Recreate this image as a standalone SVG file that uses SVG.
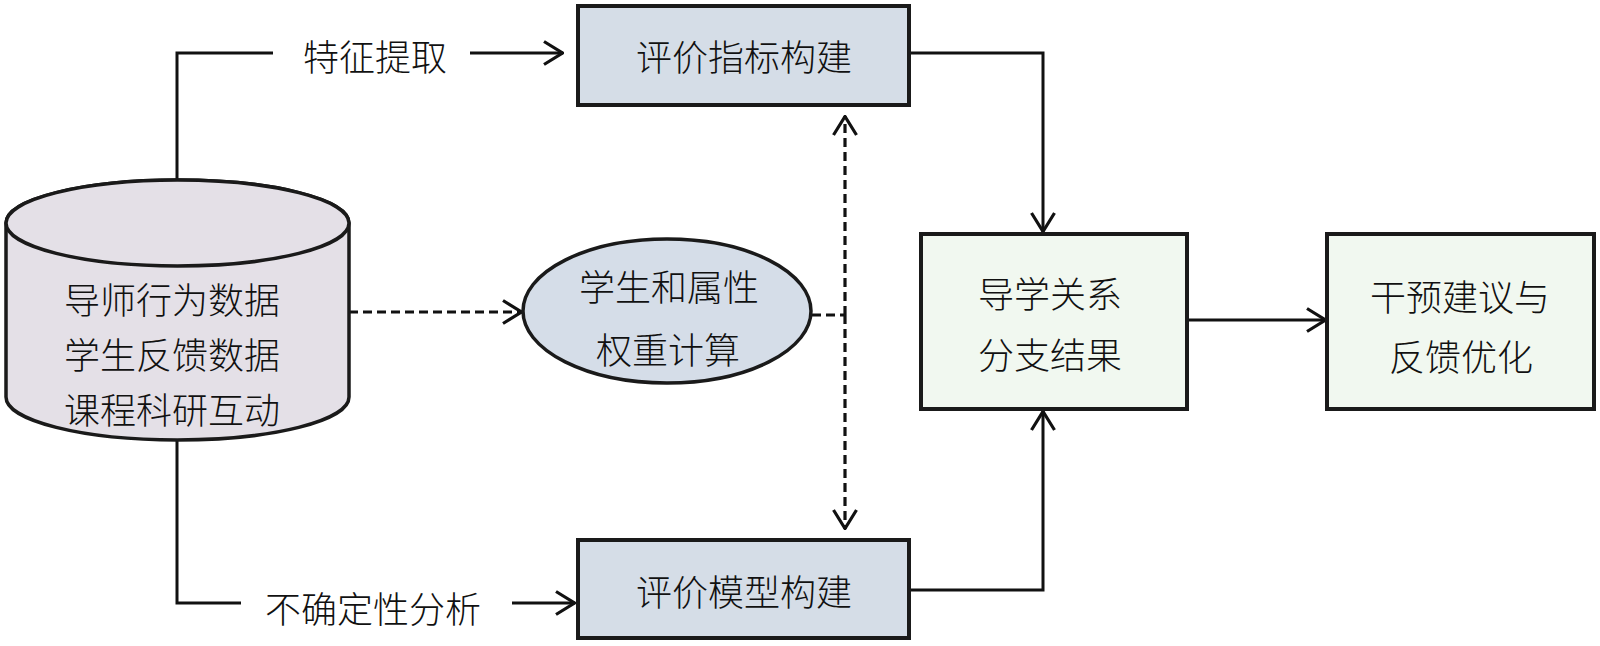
<svg xmlns="http://www.w3.org/2000/svg" width="1600" height="646" viewBox="0 0 1600 646">
<defs>
<style>
.t{font-family:"Noto Sans CJK SC","Noto Sans",sans-serif;font-size:36px;font-weight:300;fill:#111;text-anchor:middle;dominant-baseline:central;}
.box{stroke:#1a1a1a;stroke-width:4;}
.blue{fill:#d5dde7;}
.green{fill:#f1f8f0;}
.ln{fill:none;stroke:#111;stroke-width:3;}
.dash{fill:none;stroke:#111;stroke-width:3.2;stroke-dasharray:9 5;}
</style>
<marker id="arr" viewBox="0 0 22 26" refX="21" refY="13" markerWidth="22" markerHeight="26" markerUnits="userSpaceOnUse" orient="auto">
<path d="M2,1.5 L20.5,13 L2,24.5" fill="none" stroke="#111" stroke-width="3.2"/>
</marker>
</defs>
<rect width="1600" height="646" fill="#fff"/>
<g id="connectors">
<path class="ln" d="M177,180 L177,53 L273,53"/>
<path class="ln" d="M470,53 L563,53" marker-end="url(#arr)"/>
<path class="ln" d="M177,440 L177,603 L241,603"/>
<path class="ln" d="M512,603 L575,603" marker-end="url(#arr)"/>
<path class="ln" d="M909,53 L1043,53 L1043,232" marker-end="url(#arr)"/>
<path class="ln" d="M909,590 L1043,590 L1043,411" marker-end="url(#arr)"/>
<path class="ln" d="M1187,320 L1326,320" marker-end="url(#arr)"/>
<path class="dash" d="M349,312 L522,312" marker-end="url(#arr)"/>
<path class="dash" d="M812,315 L845,315"/>
<path class="dash" d="M845,315 L845,116" marker-end="url(#arr)"/>
<path class="dash" d="M845,315 L845,529" marker-end="url(#arr)"/>
<text class="t" x="375" y="55">特征提取</text>
<text class="t" x="373" y="607">不确定性分析</text>
</g>
<g id="data">
<path d="M6,223 A171.5,43 0 0 1 349,223 L349,397 A171.5,43 0 0 1 6,397 Z" fill="#e4e0e7" stroke="#1a1a1a" stroke-width="3.5"/>
<ellipse cx="177.5" cy="223" rx="171.5" ry="43" fill="#e4e0e7" stroke="#1a1a1a" stroke-width="3.5"/>
<text class="t" x="172" y="298">导师行为数据</text>
<text class="t" x="172" y="353">学生反馈数据</text>
<text class="t" x="172" y="408">课程科研互动</text>
</g>
<g id="index">
<rect class="box blue" x="578" y="6" width="331" height="99"/>
<text class="t" x="744" y="55">评价指标构建</text>
</g>
<g id="weight">
<ellipse cx="667" cy="311" rx="144" ry="72" fill="#d5dde8" stroke="#1a1a1a" stroke-width="3.5"/>
<text class="t" x="669" y="285">学生和属性</text>
<text class="t" x="668" y="348">权重计算</text>
</g>
<g id="model">
<rect class="box blue" x="578" y="540" width="331" height="98"/>
<text class="t" x="744" y="590">评价模型构建</text>
</g>
<g id="result">
<rect class="box green" x="921" y="234" width="266" height="175"/>
<text class="t" x="1050" y="292">导学关系</text>
<text class="t" x="1050" y="353">分支结果</text>
</g>
<g id="advice">
<rect class="box green" x="1327" y="234" width="267" height="175"/>
<text class="t" x="1460" y="295">干预建议与</text>
<text class="t" x="1461" y="355">反馈优化</text>
</g>
</svg>
